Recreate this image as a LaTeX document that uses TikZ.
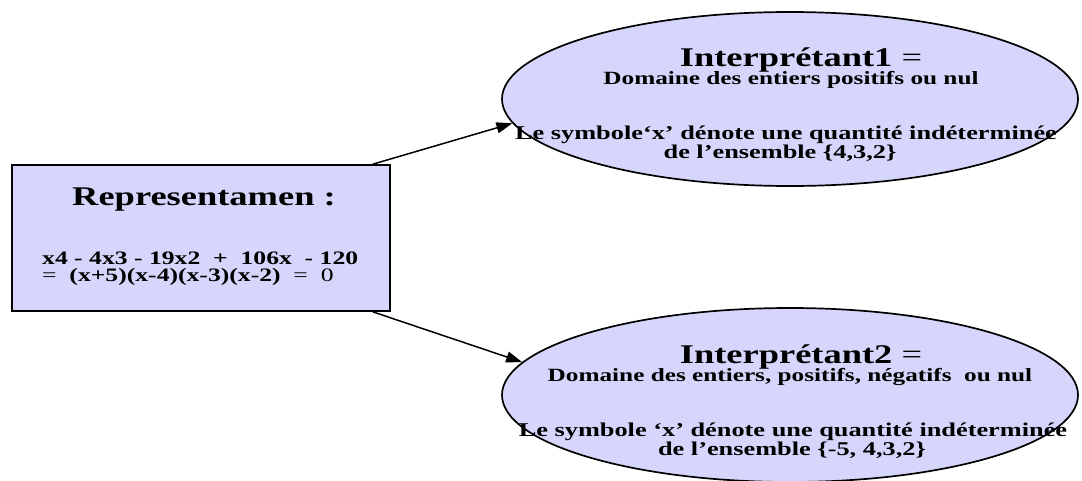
\documentclass[tikz,border=0pt]{standalone}
\usepackage{fontspec}
\setmainfont{Liberation Serif}
\newfontfamily\wide[FakeStretch=1.35]{Liberation Serif}
\usetikzlibrary{shapes.geometric,arrows.meta}
\definecolor{lav}{RGB}{214,214,252}
\begin{document}
\begin{tikzpicture}[x=1pt,y=-1pt,
  shapeline/.style={draw=black, line width=1.7pt, fill=lav},
  box/.style={shapeline, rectangle, inner sep=0pt},
  oval/.style={shapeline, ellipse, minimum width=576pt, minimum height=174pt, inner sep=0pt},
  txt/.style={anchor=base, inner sep=0pt, font=\wide\bfseries},
  big/.style={txt, font=\wide\bfseries\fontsize{27}{27}\selectfont},
  mid/.style={txt, font=\wide\bfseries\fontsize{18.7}{18.7}\selectfont},
  small/.style={txt, font=\wide\bfseries\fontsize{19.5}{19.5}\selectfont},
  eq/.style={txt, anchor=base west, font=\wide\bfseries\fontsize{19}{19}\selectfont},
  conn/.style={line width=1.5pt, -{Triangle[length=16pt,width=11pt]}}]
\useasboundingbox (0,0) rectangle (1082,480);

% sign vehicle
\node[box, minimum width=378pt, minimum height=146pt] (rep) at (201,238) {};
\node[big] (reptitle) at (204,205) {Representamen :};
\node[eq] (eqa) at (42,264) {x4 - 4x3 - 19x2~~+~~106x~~- 120};
\node[eq] (eqb) at (42,281) {{\mdseries =}~~(x+5)(x-4)(x-3)(x-2)~~{\mdseries =}~~{\mdseries 0}};

% first interpretant
\node[oval] (int1) at (790,99) {};
\node[big] (t1) at (801,66) {Interprétant1 {\mdseries =}};
\node[mid] (d1) at (791,84) {Domaine des entiers positifs ou nul};
\node[small] (s1) at (786,139) {Le symbole‘x’ dénote une quantité indéterminée};
\node[small] (e1) at (780,158) {de l’ensemble \{4,3,2\}};

% second interpretant
\node[oval] (int2) at (790,395) {};
\node[big] (t2) at (801,363) {Interprétant2 {\mdseries =}};
\node[mid] (d2) at (790,381) {Domaine des entiers, positifs, négatifs~~ou nul};
\node[small] (s2) at (793,436) {Le symbole ‘x’ dénote une quantité indéterminée};
\node[small] (e2) at (792,455) {de l’ensemble \{-5, 4,3,2\}};

% connectors
\draw[conn] ([xshift=-18pt]rep.north east) -- (int1.185);
\draw[conn] ([xshift=-18pt]rep.south east) -- (int2.173);
\end{tikzpicture}
\end{document}
